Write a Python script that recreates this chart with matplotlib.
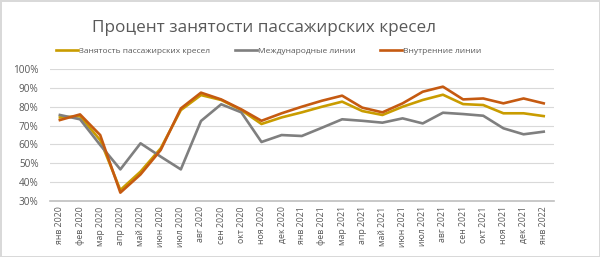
import matplotlib
matplotlib.use("Agg")
import matplotlib.pyplot as plt
from matplotlib.ticker import FuncFormatter

months = ["янв 2020", "фев 2020", "мар 2020", "апр 2020", "май 2020", "июн 2020",
          "июл 2020", "авг 2020", "сен 2020", "окт 2020", "ноя 2020", "дек 2020",
          "янв 2021", "фев 2021", "мар 2021", "апр 2021", "май 2021", "июн 2021",
          "июл 2021", "авг 2021", "сен 2021", "окт 2021", "ноя 2021", "дек 2021",
          "янв 2022"]

total = [74.4, 75.0, 62.3, 35.7, 45.5, 57.9, 78.3, 86.3, 83.7, 78.3, 70.9, 74.4,
         77.1, 80.1, 82.8, 77.8, 75.7, 80.1, 83.7, 86.5, 81.5, 81.0, 76.6, 76.6, 75.1]
international = [75.7, 73.4, 59.7, 46.7, 60.6, 53.5, 46.7, 72.5, 81.4, 77.1, 61.3, 65.0,
                 64.5, 68.9, 73.4, 72.6, 71.6, 73.9, 71.2, 76.9, 76.2, 75.3, 68.6, 65.4, 66.8]
domestic = [73.0, 76.0, 65.0, 34.3, 44.0, 57.0, 79.2, 87.6, 84.0, 78.7, 72.6, 76.6,
            80.1, 83.3, 86.0, 79.6, 77.1, 81.9, 88.1, 90.8, 84.0, 84.5, 81.9, 84.5, 81.9]

series_names = ["Занятость пассажирских кресел", "Международные линии", "Внутренние линии"]
colors = ["#C99C00", "#7F7F7F", "#C55A11"]
title = "Процент занятости пассажирских кресел"

plt.rcParams['font.family'] = ['Open Sans', 'DejaVu Sans']

fig = plt.figure(figsize=(6.0, 2.57), dpi=100)
fig.patch.set_facecolor("white")
fig.patch.set_edgecolor("#D9D9D9")
fig.patch.set_linewidth(1.0)

ax = fig.add_axes([0.083, 0.219, 0.84, 0.511])
x = list(range(len(months)))
for vals, c, name in zip([total, international, domestic], colors, series_names):
    ax.plot(x, vals, color=c, lw=1.9, label=name, solid_joinstyle="round")

ax.set_xlim(-0.5, len(months) - 0.5)
ax.set_ylim(30, 100)
ax.set_yticks(range(30, 101, 10))
ax.yaxis.set_major_formatter(FuncFormatter(lambda v, p: f"{int(v)}%"))
ax.set_xticks(x)
ax.set_xticklabels(months, rotation=90, fontsize=6.3, color="#595959")
ax.tick_params(axis="y", labelsize=7.2, labelcolor="#595959", length=0, pad=8)
ax.tick_params(axis="x", length=0, pad=4)
ax.grid(axis="y", color="#D9D9D9", lw=0.8)
ax.set_axisbelow(True)
for s in ["top", "right", "left"]:
    ax.spines[s].set_visible(False)
ax.spines["bottom"].set_color("#BFBFBF")
ax.spines["bottom"].set_linewidth(1.2)

fig.text(0.44, 0.89, title, ha="center", va="center", fontsize=12.3, color="#595959")
leg = fig.legend(loc="center", bbox_to_anchor=(0.448, 0.80), ncol=3, frameon=False,
                 fontsize=6.0, handlelength=2.6, handletextpad=0.15, columnspacing=3.0)
for t in leg.get_texts():
    t.set_color("#595959")

fig.savefig("out.png", dpi=100)
